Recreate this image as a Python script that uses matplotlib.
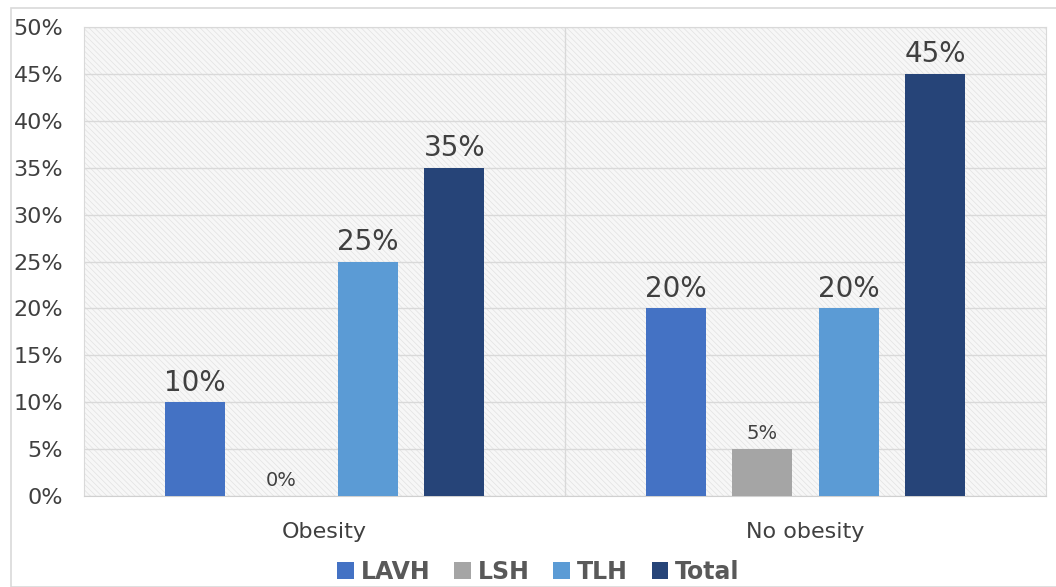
import matplotlib.pyplot as plt
import matplotlib.patches as mpatches
import numpy as np

# Données
categories = ["Obesity", "No obesity"]
series = ["LAVH", "LSH", "TLH", "Total"]
lavh = [10, 20]
lsh = [0, 5]
tlh = [25, 20]
total = [35, 45]
colors = ["#4472C4", "#A5A5A5", "#5B9BD5", "#264478"]
yticks = [0, 5, 10, 15, 20, 25, 30, 35, 40, 45, 50]

plt.rcParams['font.family'] = ['DejaVu Sans']
plt.rcParams['hatch.color'] = '#dedede'
plt.rcParams['hatch.linewidth'] = 0.5

fig = plt.figure(figsize=(10.56, 5.87), dpi=100)
ax = fig.add_axes([0.0795, 0.155, 0.911, 0.799])

# Fond hachuré
ax.set_facecolor('#f7f7f7')
ax.add_patch(mpatches.Rectangle((0, 0), 1, 1, transform=ax.transAxes,
                                facecolor='none', hatch='\\\\\\\\\\\\', edgecolor='#e2e2e2',
                                linewidth=0, zorder=0))

x = np.arange(len(categories))
step = 0.18
width = 0.125
values = [lavh, lsh, tlh, total]
for k, (name, vals, col) in enumerate(zip(series, values, colors)):
    pos = x + (k - 1.5) * step
    ax.bar(pos, vals, width, color=col, label=name, zorder=3)
    for p, v in zip(pos, vals):
        fs = 20 if v >= 10 else 14
        ax.text(p, v + 0.6, f"{v}%", ha='center', va='bottom', fontsize=fs,
                color='#404040', zorder=4)

ax.set_xlim(-0.5, 1.5)
ax.set_ylim(0, 50)
ax.set_yticks(yticks)
ax.set_yticklabels([f"{t}%" for t in yticks], fontsize=16, color='#404040')
ax.yaxis.grid(True, color='#d9d9d9', linewidth=1, zorder=1)
ax.axvline(0.5, color='#d9d9d9', linewidth=1, zorder=1)
ax.set_axisbelow(True)
ax.set_xticks(x)
ax.set_xticklabels(categories, fontsize=16, color='#404040')
ax.tick_params(axis='both', length=0)
ax.tick_params(axis='x', pad=19)
ax.tick_params(axis='y', pad=15)
for s in ['left', 'right', 'top']:
    ax.spines[s].set_color('#d9d9d9')
ax.spines['bottom'].set_color('#d0d0d0')

leg = fig.legend(loc='center', bbox_to_anchor=(0.51, 0.026), ncol=4, frameon=False,
                 prop={'size': 17, 'weight': 'bold'}, handlelength=0.7, handleheight=0.7,
                 handletextpad=0.3, columnspacing=1.0)
for t in leg.get_texts():
    t.set_color('#595959')

# Cadre de la figure
fig.patches.append(mpatches.Rectangle((11 / 1056, 0), 1, 1 - 8 / 587, transform=fig.transFigure,
                                      facecolor='none', edgecolor='#d9d9d9', linewidth=1.2))

fig.savefig("out.png", dpi=100)
